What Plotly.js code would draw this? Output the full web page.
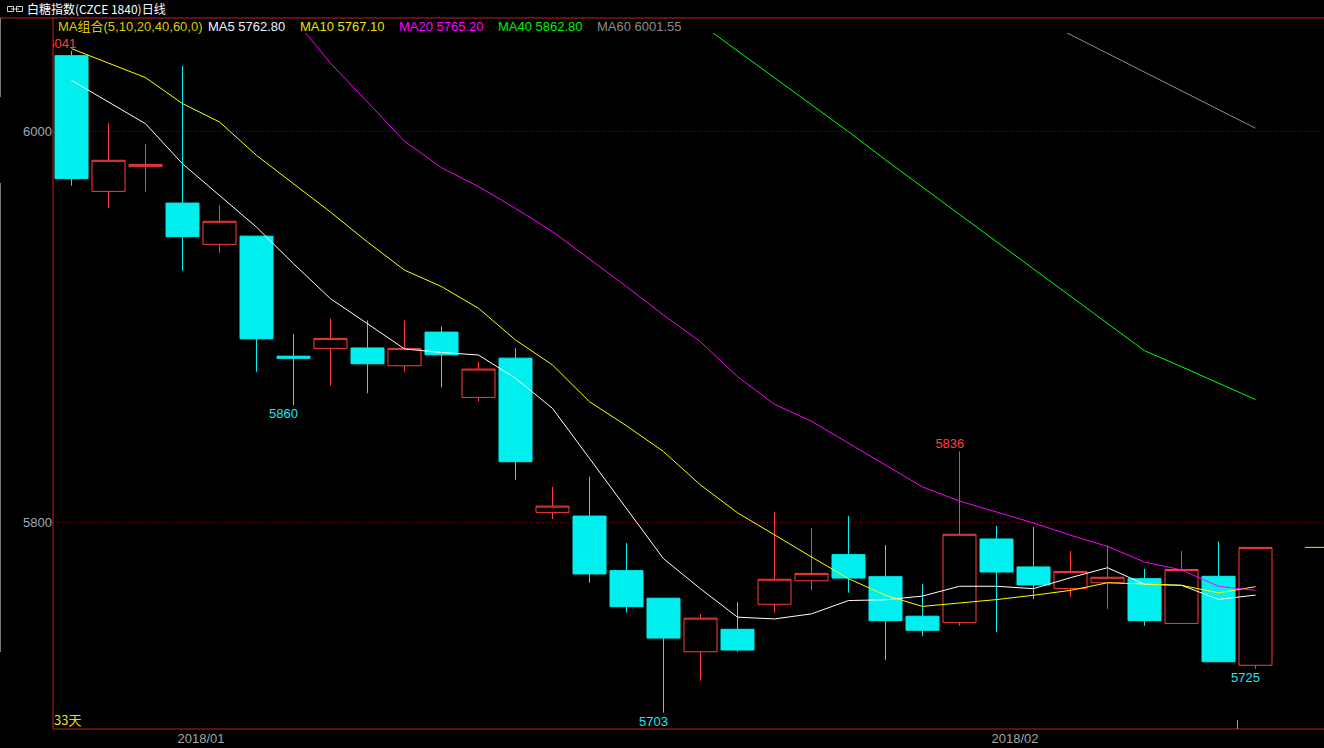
<!DOCTYPE html>
<html><head><meta charset="utf-8">
<script src="https://cdn.plot.ly/plotly-3.0.1.min.js"></script>
<style>html,body{margin:0;padding:0;background:#000;overflow:hidden}#chart{width:1324px;height:748px}</style>
</head><body><div id="chart"></div>
<script>
// ---------- data ----------
const tradeDates = ['2017-12-26','2017-12-27','2017-12-28','2017-12-29',
  '2018-01-02','2018-01-03','2018-01-04','2018-01-05','2018-01-08','2018-01-09','2018-01-10','2018-01-11','2018-01-12',
  '2018-01-15','2018-01-16','2018-01-17','2018-01-18','2018-01-19','2018-01-22','2018-01-23','2018-01-24','2018-01-25',
  '2018-01-26','2018-01-29','2018-01-30','2018-01-31',
  '2018-02-01','2018-02-02','2018-02-05','2018-02-06','2018-02-07','2018-02-08','2018-02-09'];
const openP  = [6038.7,5969.3,5981.9,5963.3,5942.2,5946.4,5885.0,5889.0,5889.2,5880.1,5897.3,5863.9,5884.0,5805.1,5803.2,5775.3,5761.2,5733.8,5745.3,5758.1,5770.1,5783.5,5772.2,5752.0,5748.7,5791.5,5777.2,5766.2,5769.1,5771.2,5748.3,5772.4,5726.9];
const highP  = [6041.1,6004.2,5993.5,6033.4,5962.3,5946.4,5896.3,5904.3,5903.3,5903.3,5900.3,5882.3,5889.2,5818.2,5823.3,5789.4,5761.2,5753.1,5759.2,5805.3,5797.1,5803.2,5788.4,5768.5,5836.3,5798.2,5797.6,5785.3,5788.2,5776.2,5785.3,5790.4,5787.2];
const lowP   = [5972.2,5960.9,5969.1,5928.7,5937.9,5877.0,5860.0,5869.9,5866.0,5877.0,5869.1,5861.9,5821.8,5801.7,5769.1,5753.8,5702.6,5719.0,5733.8,5753.8,5765.3,5764.0,5729.6,5741.8,5747.0,5743.9,5760.8,5761.9,5755.7,5747.1,5748.3,5728.7,5725.1];
const closeP = [5975.8,5985.2,5983.1,5946.1,5954.0,5893.9,5883.9,5894.1,5881.1,5889.0,5885.7,5878.4,5831.0,5808.3,5773.6,5756.9,5740.8,5751.0,5734.7,5770.9,5773.9,5771.5,5749.7,5744.8,5793.9,5774.6,5768.0,5774.9,5771.9,5749.7,5775.9,5728.7,5787.2];

const ma5  = [6026.1,6015.0,6003.9,5983.4,5967.3,5951.0,5932.3,5914.4,5901.6,5888.7,5886.9,5885.6,5873.7,5858.3,5832.7,5807.2,5781.4,5766.0,5751.5,5750.6,5753.2,5760.0,5760.4,5762.3,5767.3,5767.3,5766.1,5771.7,5776.8,5768.3,5767.8,5760.6,5762.8];
const ma10 = [6042.3,6034.8,6027.5,6014.2,6004.8,5987.7,5973.2,5958.7,5943.4,5929.0,5920.6,5909.5,5893.3,5880.5,5861.7,5849.4,5836.2,5819.1,5804.9,5793.4,5782.3,5771.2,5762.7,5757.0,5758.7,5760.5,5762.7,5765.2,5769.1,5768.3,5767.8,5763.9,5767.1];
const ma20 = [null,null,null,null,null,null,6058.0,6034.8,6015.0,5994.9,5981.4,5971.7,5960.6,5948.7,5934.7,5920.6,5906.0,5892.4,5874.5,5860.4,5851.7,5840.4,5829.2,5818.1,5810.9,5805.3,5799.7,5793.4,5787.7,5779.7,5775.7,5767.3,5765.2];
const ma40 = [null,null,null,null,null,null,null,null,null,null,null,null,null,null,null,null,null,6055.0,6041.2,6027.3,6013.3,5999.8,5985.4,5971.4,5957.4,5943.4,5929.4,5915.4,5901.4,5887.8,5879.6,5871.4,5862.8];
const ma60 = [null,null,null,null,null,null,null,null,null,null,null,null,null,null,null,null,null,null,null,null,null,null,null,null,null,null,6059.0,6049.4,6039.8,6030.2,6020.7,6011.2,6001.6];

const maNames   = ['MA5','MA10','MA20','MA40','MA60'];
const maLast    = ['5762.80','5767.10','5765.20','5862.80','6001.55'];
const maGroupLabel = 'MA组合(5,10,20,40,60,0)';
const titleText = '白糖指数(CZCE 1840)日线';
const dayCountLabel = '33天';
const yTickVals = [5800, 6000];
const highMarkIdx = [0, 24];
const lowMarkIdx  = [6, 16, 32];

// ---------- styles / geometry ----------
const W = 1324, H = 748, ML = 53, MR = 0, MT = 33, MB = 19;
const PW = W - ML - MR, PH = H - MT - MB;
const px = x => (x - ML) / PW;          // pixel -> paper x
const py = y => (H - MB - y) / PH;      // pixel -> paper y
const FONT = 'Liberation Sans, Arial, Noto Sans CJK SC, sans-serif';
const CJK = 'Noto Sans CJK SC, Liberation Sans, sans-serif';
const RED = '#ff3c3c', CYAN = '#00f0f0', BORDER = '#c41e1e';
const maColors = ['#ffffff', '#ffff00', '#ff00ff', '#00ff00', '#8c8c8c'];
const maLabelColors = ['#eef2ff', '#e6e600', '#ff00ff', '#00ee00', '#8c8c8c'];
const idx = tradeDates.map((d, i) => i);

// month ticks at month boundaries
const tickVals = [], tickText = [];
tradeDates.forEach((d, i) => {
  if (i > 0 && d.slice(0, 7) !== tradeDates[i - 1].slice(0, 7)) {
    tickVals.push(i - 0.5);
    tickText.push(d.slice(0, 4) + '/' + d.slice(5, 7));
  }
});

const traces = [];
traces.push({
  type: 'candlestick', x: idx, open: openP, high: highP, low: lowP, close: closeP,
  increasing: { line: { color: RED, width: 1 }, fillcolor: '#000000' },
  decreasing: { line: { color: CYAN, width: 1 }, fillcolor: CYAN },
  whiskerwidth: 0, hoverinfo: 'skip', showlegend: false
});
[ma5, ma10, ma20, ma40, ma60].forEach((arr, k) => {
  traces.push({ type: 'scatter', mode: 'lines', x: idx, y: arr, connectgaps: false,
    line: { color: maColors[k], width: 1 }, hoverinfo: 'skip', showlegend: false, cliponaxis: true });
});
const labelShift = 0.13;
traces.push({ type: 'scatter', mode: 'text', cliponaxis: true, hoverinfo: 'skip', showlegend: false,
  x: highMarkIdx.map(i => i + labelShift), y: highMarkIdx.map(i => highP[i]),
  text: highMarkIdx.map(i => String(Math.round(highP[i]))), textposition: 'top left',
  textfont: { family: FONT, size: 13, color: '#ff4040' } });

const lastClose = closeP[closeP.length - 1];
const shapes = [
  { type: 'line', xref: 'paper', yref: 'paper', x0: px(0), x1: 1, y0: py(18), y1: py(18), line: { color: BORDER, width: 1 } },
  { type: 'line', xref: 'paper', yref: 'paper', x0: 0, x1: 0, y0: 0, y1: py(18), line: { color: BORDER, width: 1 } },
  { type: 'line', xref: 'paper', yref: 'paper', x0: 0, x1: 1, y0: 0, y1: 0, line: { color: BORDER, width: 1 } },
  { type: 'line', xref: 'paper', yref: 'paper', x0: px(0.5), x1: px(0.5), y0: py(18), y1: py(97), line: { color: '#7a7a7a', width: 1 } },
  { type: 'line', xref: 'paper', yref: 'paper', x0: px(0.5), x1: px(0.5), y0: py(183), y1: py(652), line: { color: '#7a7a7a', width: 1 } },
  { type: 'line', xref: 'paper', yref: 'paper', x0: px(1237.5), x1: px(1237.5), y0: py(720), y1: 0, line: { color: '#a0a0a0', width: 1 } },
  { type: 'line', xref: 'paper', yref: 'y', x0: px(1305), x1: 1, y0: lastClose, y1: lastClose, line: { color: '#e6e600', width: 1 } },
  // title icon
  { type: 'rect', xref: 'paper', yref: 'paper', x0: px(7.5), x1: px(13.5), y0: py(11.5), y1: py(6.5), line: { color: '#d0d0d0', width: 1 } },
  { type: 'rect', xref: 'paper', yref: 'paper', x0: px(16.5), x1: px(22.5), y0: py(11.5), y1: py(6.5), line: { color: '#d0d0d0', width: 1 } },
  { type: 'line', xref: 'paper', yref: 'paper', x0: px(11), x1: px(19), y0: py(9), y1: py(9), line: { color: '#d0d0d0', width: 1 } }
];

const annotations = [];
annotations.push({ xref: 'paper', yref: 'paper', x: px(26), y: py(9), xanchor: 'left', yanchor: 'middle',
  text: titleText, showarrow: false, borderpad: 0, font: { family: CJK, size: 12, color: '#ffffff' } });
const legendX = [57, 207, 299, 398, 497, 596];
annotations.push({ xref: 'paper', yref: 'paper', x: px(legendX[0]), y: py(26), xanchor: 'left', yanchor: 'middle',
  text: maGroupLabel, showarrow: false, borderpad: 0, font: { family: FONT, size: 13, color: '#dccc00' } });
maNames.forEach((n, k) => {
  annotations.push({ xref: 'paper', yref: 'paper', x: px(legendX[k + 1]), y: py(26), xanchor: 'left', yanchor: 'middle',
    text: n + ' ' + maLast[k], showarrow: false, borderpad: 0, font: { family: FONT, size: 13, color: maLabelColors[k] } });
});
annotations.push({ xref: 'paper', yref: 'paper', x: px(53), y: py(719), xanchor: 'left', yanchor: 'middle',
  text: dayCountLabel, showarrow: false, borderpad: 0, font: { family: CJK, size: 13, color: '#e6e600' } });
lowMarkIdx.forEach(i => {
  annotations.push({ xref: 'x', yref: 'y', x: i, y: lowP[i], xanchor: 'right', yanchor: 'top', xshift: 5,
    text: String(Math.round(lowP[i])), showarrow: false, borderpad: 0,
    font: { family: FONT, size: 13, color: '#22e6f2' } });
});

const layout = {
  width: W, height: H,
  margin: { l: ML, r: MR, t: MT, b: MB, pad: 0 },
  paper_bgcolor: '#000000', plot_bgcolor: '#000000',
  showlegend: false, boxgap: 0.108, boxgroupgap: 0, hovermode: false,
  xaxis: { range: [-0.5, -0.5 + PW / 37], showgrid: false, zeroline: false, showline: false,
    rangeslider: { visible: false }, tickmode: 'array', tickvals: tickVals, ticktext: tickText, ticks: '',
    tickfont: { family: FONT, size: 13, color: '#a0a4a8' }, fixedrange: true },
  yaxis: { range: [5694.3, 6050.3], tickmode: 'array', tickvals: yTickVals, ticktext: yTickVals.map(String),
    showgrid: true, gridcolor: '#960000', griddash: '1px,2px', gridwidth: 1, zeroline: false, showline: false,
    ticks: '', ticklabelstandoff: 0, tickfont: { family: FONT, size: 13, color: '#a0a8b0' }, fixedrange: true },
  shapes: shapes, annotations: annotations
};

Plotly.newPlot('chart', traces, layout, { staticPlot: true, displayModeBar: false });
</script></body></html>
